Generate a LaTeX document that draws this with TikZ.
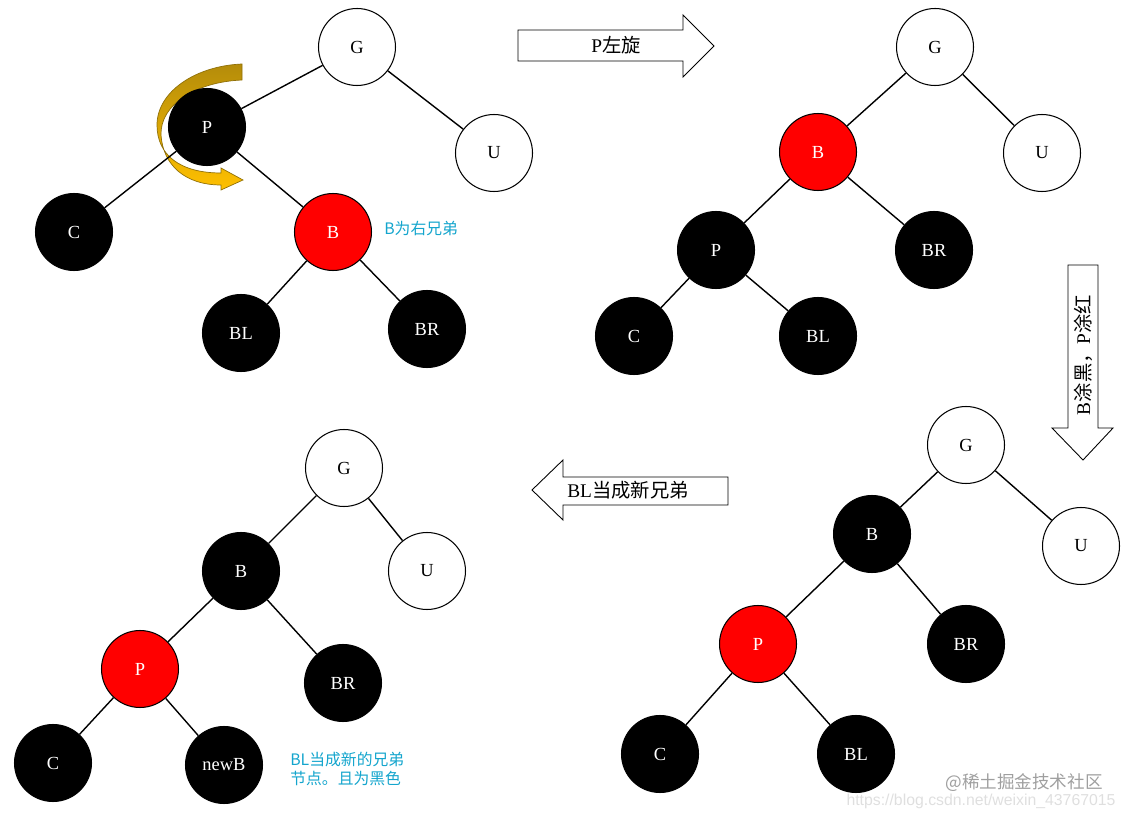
\documentclass[tikz,border=0pt]{standalone}
\usepackage{fontspec}
\setmainfont{Liberation Serif}
\setsansfont{Liberation Sans}
\newfontfamily\cjk{Noto Sans CJK SC}
\definecolor{etiqueta}{RGB}{20,165,205}
\definecolor{oroA}{RGB}{180,140,10}
\definecolor{oroB}{RGB}{255,192,0}
\tikzset{
  nodo/.style={circle,draw=black,line width=0.6pt,minimum size=1.54cm,inner sep=0pt,font=\fontsize{10.5}{12}\selectfont},
  negro/.style={nodo,fill=black,text=white},
  rojo/.style={nodo,fill=red,text=white},
  blanco/.style={nodo,fill=white},
  arista/.style={line width=0.8pt},
  flecha/.style={draw=black,line width=0.5pt,fill=white},
  textoflecha/.style={font=\fontsize{11}{13}\selectfont},
  nota/.style={text=etiqueta,font=\cjk\fontsize{9}{10.5}\selectfont,anchor=west,align=left,inner sep=0pt},
}
\begin{document}
\begin{tikzpicture}[x=0.02cm,y=-0.02cm]
  \useasboundingbox (0,0) rectangle (1126,817);

  % Giro de P
  \path[draw=oroA!80!black,line width=0.4pt,top color=oroA,bottom color=oroB]
    (242,64) .. controls (195,66) and (157,92) .. (157,125)
    .. controls (157,155) and (180,173) .. (221,173) -- (221,168) -- (243,180)
    -- (221,190) -- (221,185) .. controls (185,185) and (163,165) .. (161,135)
    .. controls (160,105) and (195,82) .. (242,80) -- cycle;

  % Arbol 1
  \node[blanco] (g1) at (357,47) {G};
  \node[negro] (p1) at (207,127) {P};
  \node[blanco] (u1) at (494,153) {U};
  \node[negro] (c1) at (74,232) {C};
  \node[rojo] (b1) at (333,232) {B};
  \node[negro] (bl1) at (241,333) {BL};
  \node[negro] (br1) at (427,329) {BR};
  \draw[arista] (g1) -- (p1);
  \draw[arista] (g1) -- (u1);
  \draw[arista] (p1) -- (c1);
  \draw[arista] (p1) -- (b1);
  \draw[arista] (b1) -- (bl1);
  \draw[arista] (b1) -- (br1);
  \node[nota] (n1) at (384,228) {B为右兄弟};

  % Flecha: P左旋
  \draw[flecha] (518,30) -- (683,30) -- (683,15) -- (714,46) -- (683,77) -- (683,61) -- (518,61) -- cycle;
  \node[textoflecha] (f1) at (616,45) {P{\cjk 左旋}};

  % Arbol 2
  \node[blanco] (g2) at (935,47) {G};
  \node[rojo] (b2) at (818,152) {B};
  \node[blanco] (u2) at (1042,153) {U};
  \node[negro] (p2) at (716,250) {P};
  \node[negro] (br2) at (934,250) {BR};
  \node[negro] (c2) at (634,336) {C};
  \node[negro] (bl2) at (818,336) {BL};
  \draw[arista] (g2) -- (b2);
  \draw[arista] (g2) -- (u2);
  \draw[arista] (b2) -- (p2);
  \draw[arista] (b2) -- (br2);
  \draw[arista] (p2) -- (c2);
  \draw[arista] (p2) -- (bl2);

  % Flecha: B涂黑，P涂红
  \draw[flecha] (1068,265) -- (1098,265) -- (1098,428) -- (1113,428) -- (1083,460) -- (1052,428) -- (1068,428) -- cycle;
  \node[textoflecha,rotate=90] (f2) at (1083,355) {B{\cjk 涂黑，}P{\cjk 涂红}};

  % Arbol 3
  \node[blanco] (g3) at (966,445) {G};
  \node[negro] (b3) at (872,534) {B};
  \node[blanco] (u3) at (1081,546) {U};
  \node[rojo] (p3) at (758,644) {P};
  \node[negro] (br3) at (966,644) {BR};
  \node[negro] (c3) at (660,754) {C};
  \node[negro] (bl3) at (856,754) {BL};
  \draw[arista] (g3) -- (b3);
  \draw[arista] (g3) -- (u3);
  \draw[arista] (b3) -- (p3);
  \draw[arista] (b3) -- (br3);
  \draw[arista] (p3) -- (c3);
  \draw[arista] (p3) -- (bl3);

  % Flecha: BL当成新兄弟
  \draw[flecha] (728,477) -- (563,477) -- (563,460) -- (532,490) -- (563,520) -- (563,505) -- (728,505) -- cycle;
  \node[textoflecha] (f3) at (628,490) {BL{\cjk 当成新兄弟}};

  % Arbol 4
  \node[blanco] (g4) at (344,468) {G};
  \node[negro] (b4) at (241,571) {B};
  \node[blanco] (u4) at (427,571) {U};
  \node[rojo] (p4) at (140,669) {P};
  \node[negro] (br4) at (343,683) {BR};
  \node[negro] (c4) at (53,763) {C};
  \node[negro] (nb4) at (224,765) {newB};
  \draw[arista] (g4) -- (b4);
  \draw[arista] (g4) -- (u4);
  \draw[arista] (b4) -- (p4);
  \draw[arista] (b4) -- (br4);
  \draw[arista] (p4) -- (c4);
  \draw[arista] (p4) -- (nb4);
  \node[nota] (n4) at (290,769) {BL当成新的兄弟\\节点。且为黑色};

  % Marca de agua
  \node[text=gray!75,font=\cjk\fontsize{10}{12}\selectfont] (m1) at (1024,783) {@稀土掘金技术社区};
  \node[text=gray!25,font=\sffamily\fontsize{9}{11}\selectfont] (m2) at (981,801) {https://blog.csdn.net/weixin\_43767015};
\end{tikzpicture}
\end{document}
